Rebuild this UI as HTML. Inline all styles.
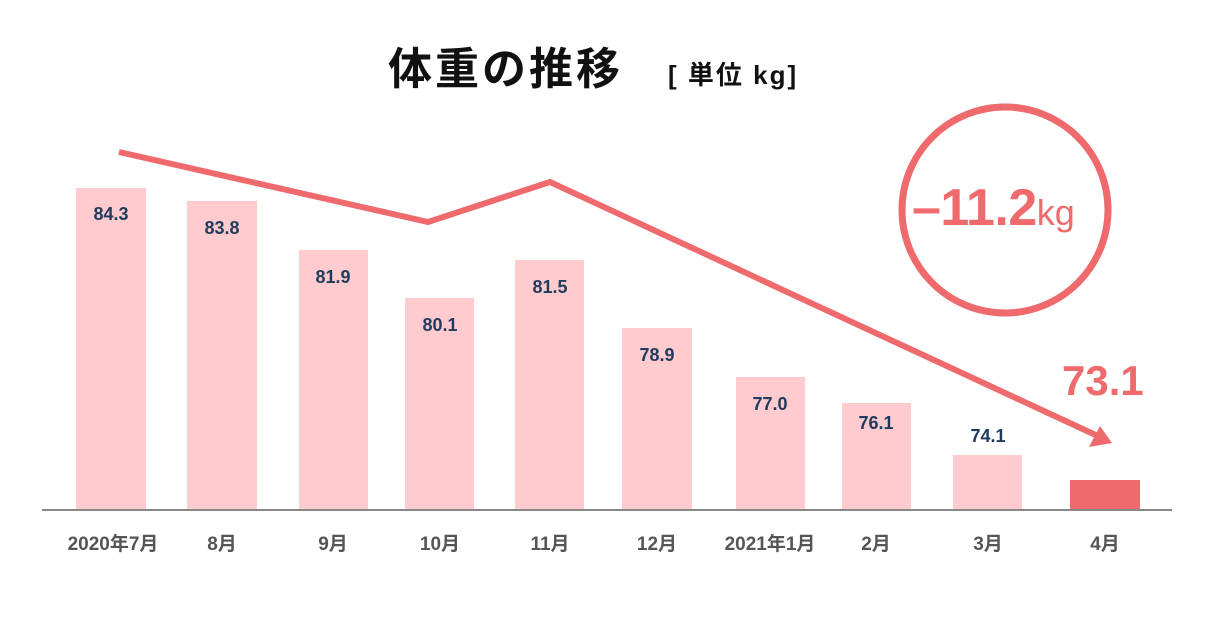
<!DOCTYPE html>
<html><head><meta charset="utf-8"><style>
html,body{margin:0;padding:0;background:#fff;}
svg{display:block;}
text{font-family:"Liberation Sans","Noto Sans CJK JP",sans-serif;}
</style></head><body>
<svg width="1208" height="620" viewBox="0 0 1208 620" xmlns="http://www.w3.org/2000/svg">
<text x="388" y="84" font-size="44" font-weight="bold" fill="#111" letter-spacing="3">体重の推移</text>
<text x="668" y="84" font-size="26" font-weight="bold" fill="#111" letter-spacing="2">[ 単位 kg]</text>
<g fill="#ffcbcf">
<rect x="76" y="188" width="70" height="322"/>
<rect x="187" y="201" width="70" height="309"/>
<rect x="299" y="250" width="69" height="260"/>
<rect x="405" y="298" width="69" height="212"/>
<rect x="515" y="260" width="69" height="250"/>
<rect x="622" y="328" width="70" height="182"/>
<rect x="736" y="377" width="69" height="133"/>
<rect x="842" y="403" width="69" height="107"/>
<rect x="953" y="455" width="69" height="55"/>
</g>
<rect x="1070" y="480" width="70" height="30" fill="#ee6a6c"/>
<line x1="42" y1="510" x2="1172" y2="510" stroke="#888" stroke-width="2"/>
<g font-size="18" font-weight="bold" fill="#1f3a5c" text-anchor="middle">
<text x="111" y="220">84.3</text>
<text x="222" y="234">83.8</text>
<text x="333" y="283">81.9</text>
<text x="440" y="331">80.1</text>
<text x="550" y="293">81.5</text>
<text x="657" y="361">78.9</text>
<text x="770" y="410">77.0</text>
<text x="876" y="429">76.1</text>
<text x="988" y="442">74.1</text>
</g>
<g font-size="19" font-weight="bold" fill="#555" text-anchor="middle">
<text x="113" y="550">2020年7月</text>
<text x="222" y="550">8月</text>
<text x="333" y="550">9月</text>
<text x="440" y="550">10月</text>
<text x="550" y="550">11月</text>
<text x="657" y="550">12月</text>
<text x="770" y="550">2021年1月</text>
<text x="876" y="550">2月</text>
<text x="988" y="550">3月</text>
<text x="1105" y="550">4月</text>
</g>
<polyline points="119,152 428,222 550,182 1100,437" fill="none" stroke="#ee6a6c" stroke-width="6"/>
<polygon points="1112,443 1089,447 1100,426" fill="#ee6a6c"/>
<circle cx="1005" cy="210" r="103" fill="none" stroke="#ee6a6c" stroke-width="7"/>
<text x="912" y="225" font-size="52" font-weight="bold" fill="#ee6a6c" letter-spacing="-0.5">–11.2<tspan font-size="36" font-weight="normal" letter-spacing="0">kg</tspan></text>
<text x="1062" y="395" font-size="42" font-weight="bold" fill="#ee6a6c">73.1</text>
</svg>
</body></html>
